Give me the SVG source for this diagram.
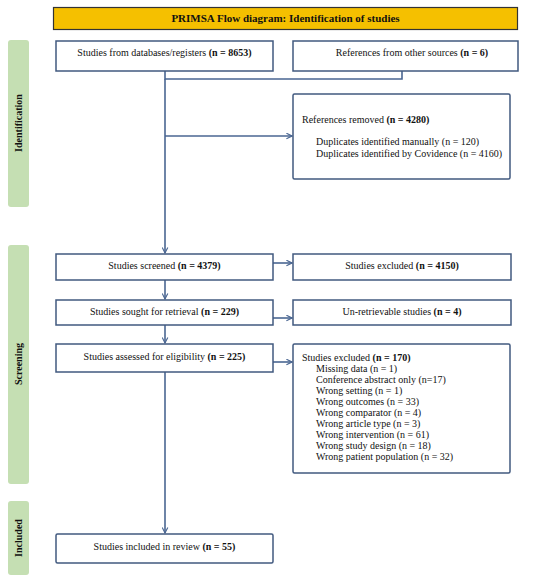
<svg xmlns="http://www.w3.org/2000/svg" width="550" height="581" viewBox="0 0 550 581">
<defs>
<style>
.box{fill:#fff;stroke:#41597f;stroke-width:1.5}
.side{fill:#c5dfb3}
.t{font-family:"Liberation Serif","Times New Roman",serif;font-size:10px;fill:#111}
.c{text-anchor:middle}
.b{font-weight:bold}
.st{font-family:"Liberation Serif","Times New Roman",serif;font-size:10px;font-weight:bold;fill:#111;text-anchor:middle}
.ln{fill:none;stroke:#4a6692;stroke-width:1.6}
</style>
<marker id="ah" viewBox="0 0 10 10" refX="9" refY="5" markerWidth="7" markerHeight="7" markerUnits="userSpaceOnUse" orient="auto">
<path d="M1,1 L9,5 L1,9" fill="none" stroke="#4a6692" stroke-width="1.6"/>
</marker>
</defs>
<rect width="550" height="581" fill="#fff"/>
<g id="title">
<rect x="53.5" y="7.5" width="464" height="22" fill="#f5c000" stroke="#333" stroke-width="1.2"/>
<text x="285.5" y="22" class="t c b" style="font-size:11px">PRIMSA Flow diagram: Identification of studies</text>
</g>
<g id="side-identification">
<rect x="8" y="40" width="21" height="167" rx="3" class="side"/>
<text class="st" transform="translate(22,123) rotate(-90)">Identification</text>
</g>
<g id="side-screening">
<rect x="8" y="245" width="21" height="239" rx="3" class="side"/>
<text class="st" transform="translate(22,364) rotate(-90)">Screening</text>
</g>
<g id="side-included">
<rect x="8" y="501" width="21" height="74" rx="3" class="side"/>
<text class="st" transform="translate(22,538) rotate(-90)">Included</text>
</g>
<g id="connectors">
<path class="ln" d="M165,71 V79 H402 V71"/>
<path class="ln" d="M165,79 V253" marker-end="url(#ah)"/>
<path class="ln" d="M165,136 H292" marker-end="url(#ah)"/>
<path class="ln" d="M273,263 H292" marker-end="url(#ah)"/>
<path class="ln" d="M165,280 V299" marker-end="url(#ah)"/>
<path class="ln" d="M273,318 H292" marker-end="url(#ah)"/>
<path class="ln" d="M165,325 V343" marker-end="url(#ah)"/>
<path class="ln" d="M273,362 H292" marker-end="url(#ah)"/>
<path class="ln" d="M165,372 V533" marker-end="url(#ah)"/>
</g>
<g id="n-databases">
<rect x="56" y="41" width="217" height="30" class="box"/>
<text x="164.5" y="56" class="t c">Studies from databases/registers <tspan class="b">(n = 8653)</tspan></text>
</g>
<g id="n-other">
<rect x="293" y="41" width="225" height="30" class="box"/>
<text x="412" y="56" class="t c">References from other sources <tspan class="b">(n = 6)</tspan></text>
</g>
<g id="n-removed">
<rect x="293" y="94" width="217" height="85" rx="1.5" class="box"/>
<text x="302" y="123" class="t">References removed <tspan class="b">(n = 4280)</tspan></text>
<text x="316" y="145" class="t">Duplicates identified manually (n = 120)</text>
<text x="316" y="157" class="t">Duplicates identified by Covidence (n = 4160)</text>
</g>
<g id="n-screened">
<rect x="56" y="254" width="217" height="26" class="box"/>
<text x="164.5" y="269" class="t c">Studies screened <tspan class="b">(n = 4379)</tspan></text>
</g>
<g id="n-excluded1">
<rect x="293" y="254" width="218" height="26" class="box"/>
<text x="402" y="269" class="t c">Studies excluded <tspan class="b">(n = 4150)</tspan></text>
</g>
<g id="n-sought">
<rect x="56" y="300" width="217" height="25" class="box"/>
<text x="164.5" y="315" class="t c">Studies sought for retrieval <tspan class="b">(n = 229)</tspan></text>
</g>
<g id="n-unretrievable">
<rect x="293" y="300" width="218" height="25" class="box"/>
<text x="402" y="315" class="t c">Un-retrievable studies <tspan class="b">(n = 4)</tspan></text>
</g>
<g id="n-assessed">
<rect x="56" y="344" width="217" height="28" class="box"/>
<text x="164.5" y="360" class="t c">Studies assessed for eligibility <tspan class="b">(n = 225)</tspan></text>
</g>
<g id="n-excluded2">
<rect x="293" y="344" width="217" height="129" rx="1.5" class="box"/>
<text x="302" y="361" class="t">Studies excluded <tspan class="b">(n = 170)</tspan></text>
<text x="316" y="371.5" class="t">Missing data (n = 1)</text>
<text x="316" y="383" class="t">Conference abstract only (n=17)</text>
<text x="316" y="394" class="t">Wrong setting (n = 1)</text>
<text x="316" y="405" class="t">Wrong outcomes (n = 33)</text>
<text x="316" y="416" class="t">Wrong comparator (n = 4)</text>
<text x="316" y="427" class="t">Wrong article type (n = 3)</text>
<text x="316" y="438" class="t">Wrong intervention (n = 61)</text>
<text x="316" y="449" class="t">Wrong study design (n = 18)</text>
<text x="316" y="460" class="t">Wrong patient population (n = 32)</text>
</g>
<g id="n-included">
<rect x="56" y="534" width="217" height="29" rx="1.5" class="box"/>
<text x="164.5" y="550" class="t c">Studies included in review <tspan class="b">(n = 55)</tspan></text>
</g>
</svg>
